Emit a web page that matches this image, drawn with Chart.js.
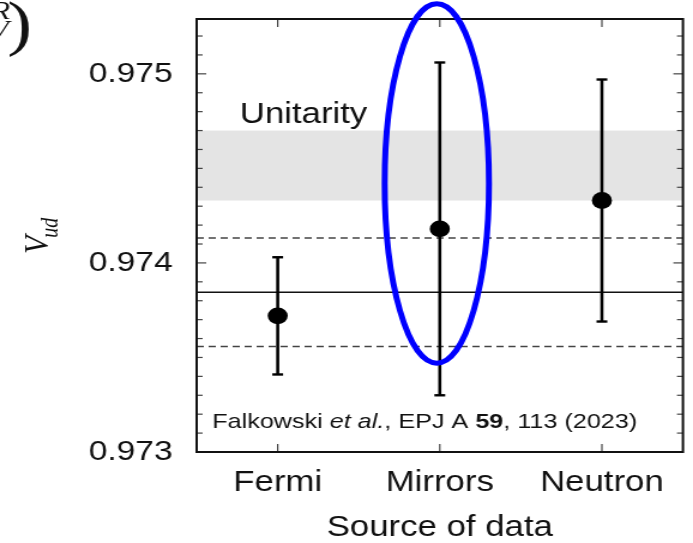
<!DOCTYPE html>
<html>
<head>
<meta charset="utf-8">
<script src="https://cdn.jsdelivr.net/npm/chart.js@4.4.1/dist/chart.umd.min.js"></script>
<style>
  html, body { margin: 0; padding: 0; background: #fff; overflow: hidden; }
  /* the figure is drawn narrow and widened, like the printed version */
  #wrap { width: 578px; height: 543px; transform: scaleX(1.199); transform-origin: 0 0; }
</style>
</head>
<body>
<div id="wrap"><canvas id="vudChart" width="578" height="543"></canvas></div>
<script>
const sources = ['Fermi', 'Mirrors', 'Neutron'];
const vudCentral = [0.97372, 0.97418, 0.97433];
const vudError = [0.00031, 0.00088, 0.00064];
const averageVud = 0.973845;
const averageError = 0.000287;
const unitarityBand = [0.97433, 0.97470];
const yTickValues = [0.973, 0.974, 0.975];
const yRange = [0.973, 0.97529];

const SANS = '"Liberation Sans", Arial, Helvetica, sans-serif';
const SERIF = '"Liberation Serif", "Times New Roman", serif';

function hline(ctx, x0, x1, y) {
    ctx.beginPath();
    ctx.moveTo(x0, y);
    ctx.lineTo(x1, y);
    ctx.stroke();
}

function vline(ctx, x, y0, y1) {
    ctx.beginPath();
    ctx.moveTo(x, y0);
    ctx.lineTo(x, y1);
    ctx.stroke();
}

const vudDecor = {
    id: 'vudDecor',
    beforeDatasetsDraw(chart) {
        const { ctx, chartArea: a, scales: { x, y } } = chart;
        ctx.save();

        // unitarity band
        const bTop = y.getPixelForValue(unitarityBand[1]);
        const bBot = y.getPixelForValue(unitarityBand[0]);
        ctx.fillStyle = '#e4e4e4';
        ctx.fillRect(a.left, bTop, a.right - a.left, bBot - bTop);

        // combined average with its uncertainty
        ctx.strokeStyle = '#111';
        ctx.lineWidth = 1.6;
        hline(ctx, a.left, a.right, y.getPixelForValue(averageVud));
        ctx.setLineDash([6, 4]);
        ctx.strokeStyle = '#444';
        hline(ctx, a.left, a.right, y.getPixelForValue(averageVud + averageError));
        hline(ctx, a.left, a.right, y.getPixelForValue(averageVud - averageError));
        ctx.setLineDash([]);

        // error bars
        ctx.strokeStyle = '#000';
        sources.forEach((s, i) => {
            const px = x.getPixelForValue(i);
            const top = y.getPixelForValue(vudCentral[i] + vudError[i]);
            const bot = y.getPixelForValue(vudCentral[i] - vudError[i]);
            ctx.lineWidth = 2.6;
            vline(ctx, px, top, bot);
            ctx.lineWidth = 2.4;
            hline(ctx, px - 4.5, px + 4.5, top);
            hline(ctx, px - 4.5, px + 4.5, bot);
        });
        ctx.restore();
    },
    afterDraw(chart) {
        const { ctx, chartArea: a, scales: { x, y } } = chart;
        ctx.save();

        // inward ticks
        ctx.strokeStyle = '#444';
        ctx.lineWidth = 1.2;
        for (let i = 0; i <= 23; i++) {
            const v = (9730 + i) / 10000;
            if (v > yRange[1]) break;
            const py = y.getPixelForValue(v);
            const len = i % 10 === 0 ? 8 : 5;
            hline(ctx, a.left, a.left + len, py);
            hline(ctx, a.right - len, a.right, py);
        }
        sources.forEach((s, i) => {
            const px = x.getPixelForValue(i);
            vline(ctx, px, a.top, a.top + 8);
            vline(ctx, px, a.bottom - 8, a.bottom);
        });

        // frame
        ctx.strokeStyle = '#111';
        ctx.lineWidth = 2;
        ctx.strokeRect(a.left, a.top, a.right - a.left, a.bottom - a.top);

        // labels inside the plot
        ctx.fillStyle = '#111';
        ctx.textBaseline = 'alphabetic';
        ctx.textAlign = 'left';
        ctx.font = '29px ' + SANS;
        ctx.fillText('Unitarity', a.left + 36, y.getPixelForValue(unitarityBand[1]) - 7.5);

        const citation = [
            ['Falkowski ', 'normal'],
            ['et al.', 'italic'],
            [', EPJ A ', 'normal'],
            ['59', 'bold'],
            [', 113 (2023)', 'normal']
        ];
        let cx = a.left + 13;
        citation.forEach(([t, style]) => {
            ctx.font = (style === 'italic' ? 'italic ' : style === 'bold' ? 'bold ' : '') + '21px ' + SANS;
            ctx.fillText(t, cx, 428);
            cx += ctx.measureText(t).width;
        });

        // y-axis title V_ud
        ctx.save();
        ctx.translate(40, 254);
        ctx.rotate(-Math.PI / 2);
        ctx.font = 'italic 30px ' + SERIF;
        ctx.fillText('V', 0, 0);
        const vw = ctx.measureText('V').width;
        ctx.font = 'italic 20px ' + SERIF;
        ctx.fillText('ud', vw - 2, 8);
        ctx.restore();

        // tail of the formula on the left edge
        ctx.font = 'italic 25px ' + SERIF;
        ctx.fillText('R', -7, 19);
        ctx.fillText('V', -8, 38);
        ctx.font = '62px ' + SERIF;
        ctx.fillText(')', 6, 44);

        // highlight around the mirror nuclei result
        const ex = x.getPixelForValue(1) - 2.5;
        const ey = y.getPixelForValue(0.97442);
        const ry = y.getPixelForValue(0.97442 - 0.00095) - ey;
        ctx.strokeStyle = '#0000ff';
        ctx.lineWidth = 5;
        ctx.beginPath();
        ctx.ellipse(ex, ey, 43.5, ry, 0, 0, Math.PI * 2);
        ctx.stroke();

        ctx.restore();
    }
};

new Chart(document.getElementById('vudChart'), {
    type: 'line',
    data: {
        labels: sources,
        datasets: [{
            data: vudCentral,
            showLine: false,
            pointRadius: 8.4,
            pointBorderWidth: 0,
            pointBackgroundColor: '#000',
            pointBorderColor: '#000'
        }]
    },
    options: {
        responsive: false,
        animation: false,
        events: [],
        layout: { padding: { top: 19, right: 2.5, left: 0, bottom: 0 } },
        plugins: {
            legend: { display: false },
            tooltip: { enabled: false }
        },
        scales: {
            x: {
                type: 'category',
                offset: true,
                grid: { display: false, drawTicks: false },
                border: { display: false },
                ticks: {
                    color: '#111',
                    padding: 14,
                    font: { family: SANS, size: 29 }
                },
                title: {
                    display: true,
                    text: 'Source of data',
                    color: '#111',
                    padding: { top: 0, bottom: -2 },
                    font: { family: SANS, size: 29 }
                },
                afterFit: (s) => { s.height = 91; s.paddingLeft = 0; s.paddingRight = 0; }
            },
            y: {
                min: yRange[0],
                max: yRange[1],
                grid: { display: false, drawTicks: false },
                border: { display: false },
                ticks: {
                    color: '#111',
                    padding: 20,
                    font: { family: SANS, size: 28 },
                    callback: (v) => Number(v).toFixed(3)
                },
                afterBuildTicks: (s) => { s.ticks = yTickValues.map(v => ({ value: v })); },
                afterFit: (s) => { s.width = 164; s.paddingTop = 0; s.paddingBottom = 0; }
            }
        }
    },
    plugins: [vudDecor]
});
</script>
</body>
</html>
